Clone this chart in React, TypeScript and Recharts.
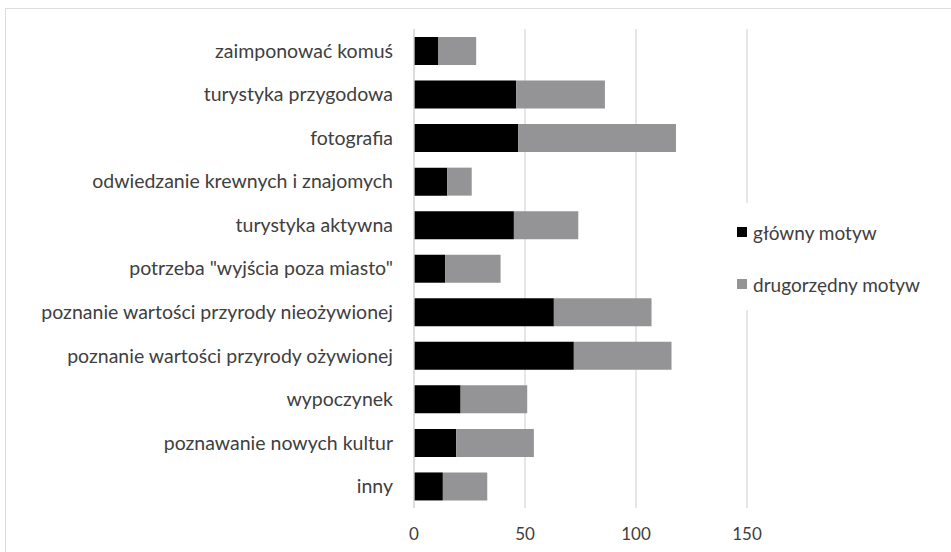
import { Bar, BarChart, CartesianGrid, Legend, XAxis, YAxis } from 'recharts';

const categories = [
  'zaimponować komuś',
  'turystyka przygodowa',
  'fotografia',
  'odwiedzanie krewnych i znajomych',
  'turystyka aktywna ',
  'potrzeba "wyjścia poza miasto"',
  'poznanie wartości przyrody nieożywionej',
  'poznanie wartości przyrody ożywionej',
  'wypoczynek',
  'poznawanie nowych kultur',
  'inny',
];
const glowny = [11, 46, 47, 15, 45, 14, 63, 72, 21, 19, 13];
const drugorzedny = [17, 40, 71, 11, 29, 25, 44, 44, 30, 35, 20];
const xTicks = [0, 50, 100, 150];
const seriesOrder = ['glowny', 'drugorzedny'];

const data = categories.map((name, i) => ({
  name,
  glowny: glowny[i],
  drugorzedny: drugorzedny[i],
}));

const FONT = 'Lato, "Noto Sans", sans-serif';

function LegendBox({ payload }: any) {
  const items = [...(payload ?? [])].sort(
    (a: any, b: any) => seriesOrder.indexOf(a.dataKey) - seriesOrder.indexOf(b.dataKey),
  );
  return (
    <div style={{ background: '#fff', height: 107, fontFamily: FONT, fontSize: 19, color: '#404040' }}>
      {items.map((item: any, i: number) => (
        <div
          key={item.value}
          style={{ position: 'absolute', left: 7, top: 18 + i * 52, display: 'flex', alignItems: 'center', height: 22 }}
        >
          <span style={{ width: 10, height: 10, background: item.color, marginRight: 6, display: 'inline-block' }} />
          <span>{item.value}</span>
        </div>
      ))}
    </div>
  );
}

export default function App() {
  return (
    <div style={{ position: 'fixed', left: 0, top: 0, width: 951, height: 552, background: '#fff', overflow: 'hidden' }}>
      <div
        style={{
          position: 'absolute',
          left: 5,
          top: 8,
          width: 980,
          height: 580,
          border: '1px solid #dcdcdc',
        }}
      />
      <div style={{ position: 'absolute', left: 0, top: 0 }}>
        <BarChart
          width={951}
          height={552}
          data={data}
          layout="vertical"
          barSize={28}
          margin={{ top: 29, right: 204, bottom: 14, left: 0 }}
        >
          <CartesianGrid horizontal={false} stroke="#d9d9d9" strokeWidth={1.3} />
          <XAxis
            type="number"
            domain={[0, 150]}
            ticks={xTicks}
            height={30}
            axisLine={false}
            tickLine={false}
            tickMargin={14}
            tick={{ fill: '#404040', fontSize: 17, fontFamily: FONT }}
          />
          <YAxis
            dataKey="name"
            type="category"
            width={414}
            axisLine={{ stroke: '#d9d9d9', strokeWidth: 1.3 }}
            tickLine={false}
            tickMargin={15}
            interval={0}
            tick={{ fill: '#404040', fontSize: 19.5, fontFamily: FONT }}
          />
          <Legend
            layout="horizontal"
            verticalAlign="middle"
            align="center"
            content={<LegendBox />}
            wrapperStyle={{ left: 730, top: 203, width: 215, height: 107 }}
          />
          <Bar dataKey="glowny" name="główny motyw" stackId="a" fill="#000000" isAnimationActive={false} />
          <Bar dataKey="drugorzedny" name="drugorzędny motyw" stackId="a" fill="#949496" isAnimationActive={false} />
        </BarChart>
      </div>
    </div>
  );
}
